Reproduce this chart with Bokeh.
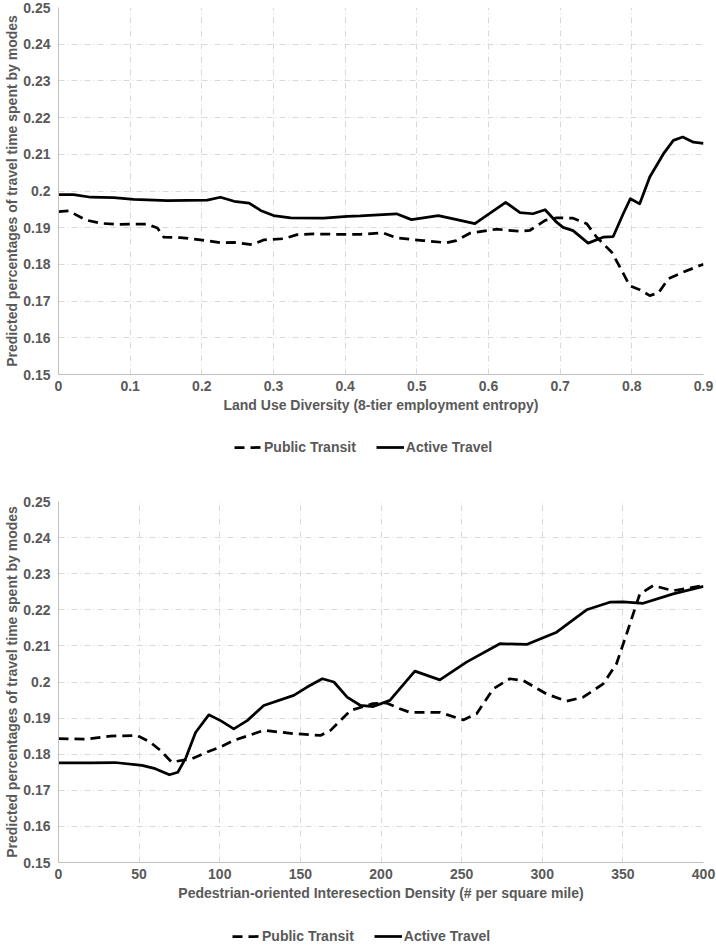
from bokeh.plotting import figure
from bokeh.layouts import column
from bokeh.models import Range1d, FixedTicker, Legend, LegendItem, CustomJSTickFormatter
from bokeh.embed import file_html
from bokeh.resources import INLINE

# ---------------- data: top chart (Land Use Diversity) ----------------
lud_transit_x = [0, 0.014, 0.038, 0.059, 0.082, 0.124, 0.138, 0.147, 0.170, 0.198, 0.226, 0.245,
                 0.270, 0.287, 0.314, 0.333, 0.356, 0.384, 0.421, 0.453, 0.472, 0.509, 0.541, 0.555,
                 0.574, 0.611, 0.644, 0.658, 0.679, 0.695, 0.718, 0.737, 0.751, 0.772, 0.786, 0.797,
                 0.811, 0.825, 0.837, 0.851, 0.872, 0.895, 0.9]
lud_transit_y = [0.1944, 0.1946, 0.1921, 0.1912, 0.1909, 0.1910, 0.1899, 0.1874, 0.1873, 0.1867, 0.1859, 0.1860,
                 0.1854, 0.1867, 0.1870, 0.1881, 0.1883, 0.1882, 0.1882, 0.1886, 0.1872, 0.1865, 0.1859, 0.1865,
                 0.1885, 0.1896, 0.1890, 0.1893, 0.1920, 0.1927, 0.1926, 0.1911, 0.1874, 0.1833, 0.1783, 0.1742,
                 0.1731, 0.1715, 0.1722, 0.1761, 0.1779, 0.1797, 0.1800]
lud_active_x = [0, 0.021, 0.045, 0.077, 0.105, 0.152, 0.2075, 0.226, 0.245, 0.266, 0.282, 0.300, 0.324,
                0.370, 0.403, 0.421, 0.4716, 0.4925, 0.530, 0.551, 0.581, 0.624, 0.644, 0.662, 0.679,
                0.695, 0.704, 0.718, 0.739, 0.760, 0.774, 0.788, 0.798, 0.811, 0.825, 0.844, 0.858,
                0.871, 0.886, 0.9]
lud_active_y = [0.1990, 0.1990, 0.1983, 0.1982, 0.1977, 0.1974, 0.1975, 0.1983, 0.1972, 0.1967, 0.1947, 0.1933, 0.1927,
                0.1926, 0.1931, 0.1932, 0.1938, 0.1922, 0.1933, 0.1924, 0.1911, 0.1969, 0.1941, 0.1938, 0.1949,
                0.1915, 0.1901, 0.1892, 0.1858, 0.1874, 0.1876, 0.1938, 0.1979, 0.1965, 0.2038, 0.2101, 0.2138,
                0.2147, 0.2133, 0.2130]

# ---------------- data: bottom chart (Intersection Density) ----------------
pid_transit_x = [0, 17.8, 32.2, 48.8, 57, 63.3, 70.2, 83, 92.2, 100, 108.7, 127.3, 145.9, 162.5, 168.7,
                 181.1, 195, 203.4, 211.7, 217.9, 236.5, 251, 259.3, 269.6, 279.9, 288.2, 302.6, 315,
                 325.4, 337.8, 346, 352.3, 360.5, 368.8, 381.2, 400]
pid_transit_y = [0.1843, 0.1842, 0.1850, 0.1852, 0.1833, 0.1810, 0.1778, 0.1788, 0.1806, 0.1819, 0.1838, 0.1866,
                 0.1857, 0.1852, 0.1866, 0.1921, 0.1940, 0.1942, 0.1926, 0.1916, 0.1916, 0.1895, 0.1912, 0.1981,
                 0.2009, 0.2004, 0.1967, 0.1947, 0.1958, 0.1995, 0.2050, 0.2133, 0.2244, 0.2267, 0.2253, 0.2267]
pid_active_x = [0, 20, 35, 51.8, 60, 68.8, 74, 79, 85, 93.2, 100.5, 108.7, 117, 127.3, 145.9, 154.2, 163.6,
                170.8, 179, 187.3, 195.2, 205.5, 221, 236.5, 253, 273.7, 290.3, 308.9, 327.5, 341.9, 350.2,
                362.6, 381.2, 400]
pid_active_y = [0.1776, 0.1776, 0.1777, 0.1769, 0.1760, 0.1743, 0.1750, 0.1790, 0.1860, 0.1909, 0.1893, 0.1870,
                0.1893, 0.1935, 0.1963, 0.1986, 0.2009, 0.2000, 0.1958, 0.1935, 0.1932, 0.1949, 0.2030, 0.2006,
                0.2055, 0.2106, 0.2104, 0.2138, 0.2200, 0.2221, 0.2222, 0.2218, 0.2244, 0.2265]

# ---------------- ticks / labels ----------------
y_ticks = [0.15, 0.16, 0.17, 0.18, 0.19, 0.2, 0.21, 0.22, 0.23, 0.24, 0.25]
lud_ticks = [0, 0.1, 0.2, 0.3, 0.4, 0.5, 0.6, 0.7, 0.8, 0.9]
pid_ticks = [0, 50, 100, 150, 200, 250, 300, 350, 400]
series_names = ["Public Transit", "Active Travel"]
y_title = "Predicted percentages of travel time spent by modes"
lud_title = "Land Use Diversity (8-tier employment entropy)"
pid_title = "Pedestrian-oriented Interesection Density (# per square mile)"

FONT = "Liberation Sans"
TXT = "#595959"
W = 716


def make_fig(xr, xt, xtitle, tx, ty, ax_, ay_, height, btop, bbottom):
    p = figure(width=W, height=height, x_range=Range1d(xr[0], xr[1]), y_range=Range1d(0.15, 0.25),
               output_backend="svg", toolbar_location=None,
               min_border_left=58, min_border_right=13, min_border_top=btop, min_border_bottom=bbottom)
    p.outline_line_color = None
    p.background_fill_color = "white"
    p.xaxis.ticker = FixedTicker(ticks=xt)
    p.yaxis.ticker = FixedTicker(ticks=y_ticks)
    p.xgrid.ticker = FixedTicker(ticks=xt)
    p.ygrid.ticker = FixedTicker(ticks=y_ticks)
    p.xaxis.formatter = CustomJSTickFormatter(code="return String(tick);")
    p.yaxis.formatter = CustomJSTickFormatter(code="return String(tick);")
    for ax in p.axis:
        ax.axis_line_color = "#bfbfbf"
        ax.axis_line_width = 1
        ax.major_tick_line_color = None
        ax.minor_tick_line_color = None
        ax.major_tick_out = 0
        ax.major_tick_in = 0
        ax.major_label_text_font = FONT
        ax.major_label_text_font_size = "14px"
        ax.major_label_text_font_style = "bold"
        ax.major_label_text_color = TXT
        ax.axis_label_text_font = FONT
        ax.axis_label_text_font_size = "14px"
        ax.axis_label_text_font_style = "bold"
        ax.axis_label_text_color = TXT
    p.yaxis.axis_label = y_title
    p.yaxis.major_label_standoff = 8
    p.yaxis.axis_label_standoff = 0
    p.xaxis.axis_label = xtitle
    p.xaxis.major_label_standoff = 6
    p.xaxis.axis_label_standoff = 3
    p.grid.grid_line_color = "#d9d9d9"
    p.grid.grid_line_dash = "6 3 1 3"
    p.grid.grid_line_width = 1

    p.line(tx, ty, line_color="black", line_width=2.75, line_dash="10 6", line_join="round")
    p.line(ax_, ay_, line_color="black", line_width=2.75, line_join="round")
    return p


def make_legend(height, loc, tx, ty, ax_, ay_):
    # legend-only strip: the series are re-used as legend proxies but lie outside this strip's view
    q = figure(width=W, height=height, x_range=Range1d(0, 1), y_range=Range1d(10, 11),
               x_axis_type=None, y_axis_type=None, output_backend="svg", toolbar_location=None,
               min_border_left=0, min_border_right=0, min_border_top=0, min_border_bottom=0)
    q.outline_line_color = None
    q.grid.visible = False
    r1 = q.line(tx, ty, line_color="black", line_width=2.75, line_dash="10 6")
    r2 = q.line(ax_, ay_, line_color="black", line_width=2.75)
    leg = Legend(items=[LegendItem(label=series_names[0], renderers=[r1]),
                        LegendItem(label=series_names[1], renderers=[r2])],
                 orientation="horizontal", location=loc,
                 border_line_color=None, background_fill_alpha=0,
                 label_text_font=FONT, label_text_font_size="14px", label_text_font_style="bold",
                 label_text_color=TXT, glyph_width=28, glyph_height=18, label_height=18,
                 label_standoff=2, spacing=20, padding=0, margin=0)
    q.add_layout(leg)
    return q


f1 = make_fig((0, 0.9), lud_ticks, lud_title, lud_transit_x, lud_transit_y, lud_active_x, lud_active_y,
              424, 7, 50)
l1 = make_legend(46, (176, 14), lud_transit_x, lud_transit_y, lud_active_x, lud_active_y)
f2 = make_fig((0, 400), pid_ticks, pid_title, pid_transit_x, pid_transit_y, pid_active_x, pid_active_y,
              442, 31, 50)
l2 = make_legend(34, (174, 1), pid_transit_x, pid_transit_y, pid_active_x, pid_active_y)

layout = column(f1, l1, f2, l2, spacing=0)
open("out.html", "w").write(file_html(layout, INLINE))
